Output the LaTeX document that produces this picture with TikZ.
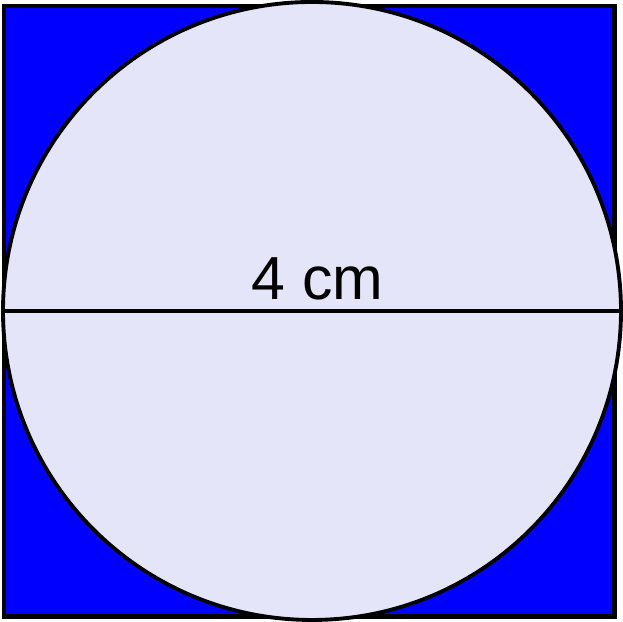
\documentclass[tikz,border=0pt]{standalone}
\usepackage{fontspec}
\setmainfont{Liberation Sans}
\usepackage{tikz}
\usetikzlibrary{calc,positioning}
\definecolor{squareblue}{RGB}{0,0,255}
\definecolor{discfill}{RGB}{228,229,248}

\begin{document}
\begin{tikzpicture}[x=1cm,y=1cm]
  \useasboundingbox (0,0) rectangle (6.23,6.22);
  \draw[line width=1.2pt,fill=squareblue] (0.04,0.055) rectangle (6.145,6.16);
  \draw[line width=1.1pt,fill=discfill] (3.12,3.11) circle (3.09);
  \coordinate (dleft) at (0.03,3.11);
  \coordinate (dright) at (6.21,3.11);
  \draw[line width=1.1pt] (dleft)--(dright);
  \node[anchor=base,inner sep=0pt,font=\fontsize{17.3}{20}\selectfont] (dlabel) at (3.175,3.22) {4 cm};
\end{tikzpicture}
\end{document}
